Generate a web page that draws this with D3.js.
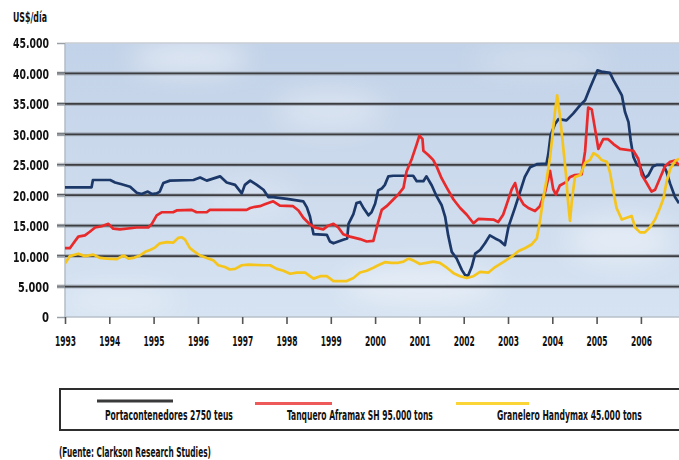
<!DOCTYPE html>
<html>
<head>
<meta charset="utf-8">
<script src="https://cdn.jsdelivr.net/npm/d3@7/dist/d3.min.js"></script>
<style>
  html, body { margin: 0; padding: 0; background: #ffffff; }
  svg { display: block; }
  text { font-family: "Liberation Sans Narrow", "DejaVu Sans Condensed", "Roboto", sans-serif; fill: #111; }
</style>
</head>
<body>
<svg id="chart" width="679" height="460"></svg>
<script>
// ---------------- DATA ----------------
const yearTicks = [1993,1994,1995,1996,1997,1998,1999,2000,2001,2002,2003,2004,2005,2006];
const yTickValues = [0,5000,10000,15000,20000,25000,30000,35000,40000,45000];
const yTickLabels = ["0","5.000","10.000","15.000","20.000","25.000","30.000","35.000","40.000","45.000"];
const seriesNames = ["Portacontenedores 2750 teus","Tanquero Aframax SH 95.000 tons","Granelero Handymax 45.000 tons"];
const yUnit = "US$/día";
const sourceNote = "(Fuente: Clarkson Research Studies)";

// [decimal year, US$/day]
const portacontenedores = [
 [1993.00,21300],[1993.60,21300],[1993.63,22500],[1994.02,22500],[1994.13,22100],[1994.28,21800],
 [1994.47,21400],[1994.62,20400],[1994.73,20200],[1994.87,20600],[1994.96,20200],[1995.07,20300],
 [1995.14,20600],[1995.22,22000],[1995.37,22400],[1995.90,22500],[1996.05,22900],[1996.20,22400],
 [1996.50,23100],[1996.65,22100],[1996.84,21700],[1996.99,20300],[1997.06,21700],[1997.18,22400],
 [1997.33,21700],[1997.48,20900],[1997.59,19700],[1997.70,19700],[1998.01,19400],[1998.38,19000],
 [1998.46,18000],[1998.53,16500],[1998.61,13600],[1998.91,13500],[1998.98,12400],[1999.06,12100],
 [1999.28,12700],[1999.37,12900],[1999.40,15300],[1999.51,16900],[1999.58,18700],[1999.66,18900],
 [1999.73,18000],[1999.85,16700],[1999.92,17200],[2000.00,18600],[2000.07,20800],[2000.15,21100],
 [2000.22,21700],[2000.30,23100],[2000.41,23200],[2000.86,23200],[2000.94,22300],[2001.09,22300],
 [2001.16,23100],[2001.28,21600],[2001.39,19800],[2001.50,18400],[2001.58,16500],[2001.65,13400],
 [2001.73,10700],[2001.84,9600],[2001.96,7700],[2002.03,6900],[2002.10,6800],[2002.18,8200],
 [2002.26,10400],[2002.37,11000],[2002.48,12100],[2002.59,13400],[2002.71,12900],[2002.82,12500],
 [2002.93,11800],[2003.01,14800],[2003.16,18000],[2003.27,20500],[2003.38,23000],[2003.50,24600],
 [2003.65,25100],[2003.87,25200],[2003.91,26800],[2003.96,29800],[2004.06,31700],[2004.14,32500],
 [2004.32,32300],[2004.47,33400],[2004.63,34800],[2004.74,35600],[2004.85,37600],[2004.96,39500],
 [2005.02,40500],[2005.11,40300],[2005.30,40100],[2005.38,38900],[2005.45,38000],[2005.57,36400],
 [2005.64,33700],[2005.72,32000],[2005.77,29000],[2005.83,26300],[2005.91,25000],[2005.98,24700],
 [2006.09,22800],[2006.17,23300],[2006.27,24700],[2006.36,25000],[2006.51,25000],[2006.58,23800],
 [2006.66,21900],[2006.77,19700],[2006.86,18700]
];
const tanquero = [
 [1993.00,11300],[1993.11,11300],[1993.19,12100],[1993.30,13200],[1993.45,13400],[1993.56,14000],
 [1993.68,14700],[1993.83,14900],[1993.98,15300],[1994.09,14500],[1994.24,14400],[1994.62,14700],
 [1994.88,14700],[1994.96,15300],[1995.07,16700],[1995.18,17200],[1995.44,17200],[1995.52,17500],
 [1995.86,17600],[1995.97,17200],[1996.20,17200],[1996.27,17600],[1997.10,17600],[1997.18,17900],
 [1997.29,18100],[1997.40,18200],[1997.51,18500],[1997.70,19000],[1997.85,18300],[1998.15,18200],
 [1998.27,17500],[1998.38,16300],[1998.53,15200],[1998.64,14700],[1998.83,14400],[1998.94,15000],
 [1999.06,15300],[1999.17,14700],[1999.28,13600],[1999.43,13200],[1999.66,12800],[1999.81,12400],
 [1999.96,12500],[2000.07,15600],[2000.15,17600],[2000.26,18200],[2000.41,19300],[2000.52,20100],
 [2000.64,21200],[2000.71,23900],[2000.83,26000],[2000.94,28400],[2001.00,29800],[2001.07,29200],
 [2001.09,27300],[2001.20,26600],[2001.31,25800],[2001.39,24700],[2001.50,22800],[2001.62,21200],
 [2001.77,19300],[2001.92,17900],[2002.07,16800],[2002.22,15400],[2002.33,16100],[2002.67,16000],
 [2002.78,15600],[2002.89,16800],[2002.97,18500],[2003.08,20900],[2003.16,22000],[2003.23,20000],
 [2003.35,18500],[2003.46,17900],[2003.61,17400],[2003.72,18200],[2003.84,20600],[2003.91,22800],
 [2003.95,24000],[2004.02,21000],[2004.08,20100],[2004.17,21600],[2004.32,22200],[2004.40,23000],
 [2004.51,23300],[2004.66,23400],[2004.74,27200],[2004.81,34400],[2004.89,34100],[2004.96,31100],
 [2005.04,27600],[2005.15,29200],[2005.26,29200],[2005.38,28400],[2005.53,27600],[2005.83,27300],
 [2005.94,26000],[2006.02,23300],[2006.13,22000],[2006.24,20600],[2006.32,20900],[2006.43,22800],
 [2006.54,24700],[2006.66,25500],[2006.77,25700],[2006.86,24900]
];
const granelero = [
 [1993.00,8800],[1993.11,10000],[1993.30,10400],[1993.45,10000],[1993.64,10250],[1993.79,9700],
 [1993.94,9600],[1994.17,9500],[1994.32,10100],[1994.43,9600],[1994.54,9700],[1994.69,10100],
 [1994.81,10700],[1994.92,11000],[1995.03,11400],[1995.14,12100],[1995.30,12300],[1995.44,12200],
 [1995.56,13000],[1995.63,13100],[1995.71,12700],[1995.82,11300],[1995.93,10700],[1996.05,10100],
 [1996.20,9700],[1996.35,9300],[1996.46,8500],[1996.61,8200],[1996.72,7800],[1996.84,7900],
 [1996.99,8500],[1997.14,8600],[1997.48,8500],[1997.63,8500],[1997.78,7900],[1997.93,7600],
 [1998.08,7100],[1998.23,7300],[1998.42,7300],[1998.61,6300],[1998.76,6700],[1998.91,6700],
 [1999.06,5900],[1999.36,5900],[1999.51,6400],[1999.66,7300],[1999.81,7600],[1999.96,8100],
 [2000.07,8500],[2000.22,9000],[2000.37,8900],[2000.52,8900],[2000.64,9100],[2000.75,9600],
 [2000.86,9300],[2001.01,8700],[2001.16,8900],[2001.31,9100],[2001.46,8900],[2001.62,8100],
 [2001.77,7200],[2001.92,6700],[2002.07,6400],[2002.22,6700],[2002.37,7400],[2002.56,7300],
 [2002.71,8200],[2002.89,9000],[2003.08,9900],[2003.23,10800],[2003.38,11300],[2003.53,11900],
 [2003.65,12900],[2003.72,15700],[2003.80,19700],[2003.87,22500],[2003.95,26300],[2004.02,31000],
 [2004.06,33700],[2004.11,36400],[2004.17,33200],[2004.25,27600],[2004.31,23300],[2004.36,18500],
 [2004.40,15800],[2004.44,19000],[2004.51,23000],[2004.63,23300],[2004.74,25300],[2004.85,25800],
 [2004.93,26900],[2005.04,26400],[2005.11,25800],[2005.23,25500],[2005.30,23800],[2005.38,20600],
 [2005.45,17900],[2005.57,16000],[2005.68,16300],[2005.79,16600],[2005.87,14700],[2005.98,13900],
 [2006.09,13900],[2006.20,14700],[2006.32,16000],[2006.43,17900],[2006.51,19500],[2006.58,22200],
 [2006.66,24300],[2006.77,25600],[2006.86,26000]
];
const seriesData = [portacontenedores, tanquero, granelero];
const seriesColors = ["#1c3868", "#e82a2c", "#f5c51e"];
const legendColors = ["#3a3a3a", "#ee5a5a", "#fbd535"];

// ---------------- HELPERS ----------------
// squeeze a text horizontally to a target width (condensed look of the original)
function fitWidth(textSel, target, anchorX, anchorY) {
  textSel.each(function(d, i) {
    const t = d3.select(this);
    const w = this.getComputedTextLength();
    const tw = typeof target === "function" ? target(d, i) : target;
    const sx = w > 0 ? tw / w : 1;
    const ax = typeof anchorX === "function" ? anchorX(d, i) : anchorX;
    const ay = typeof anchorY === "function" ? anchorY(d, i) : anchorY;
    t.attr("x", 0).attr("y", 0).attr("transform", `translate(${ax},${ay}) scale(${sx},1)`);
  });
}

// ---------------- LAYOUT ----------------
const svg = d3.select("#chart");
const plotL = 65, plotR = 679, plotT = 43, plotB = 317;
const x = d3.scaleLinear().domain([1993, 2007]).range([plotL, plotL + 14 * 44.3]);
const y = d3.scaleLinear().domain([0, 45000]).range([plotB, plotT]);

const defs = svg.append("defs");
const sky = defs.append("linearGradient").attr("id", "sky").attr("x1", 0).attr("y1", 0).attr("x2", 0).attr("y2", 1);
sky.append("stop").attr("offset", "0%").attr("stop-color", "#c2d2e8");
sky.append("stop").attr("offset", "55%").attr("stop-color", "#cddbed");
sky.append("stop").attr("offset", "100%").attr("stop-color", "#d6e3f2");
defs.append("filter").attr("id", "blur").attr("x", "-50%").attr("y", "-50%").attr("width", "200%").attr("height", "200%")
  .append("feGaussianBlur").attr("stdDeviation", 14);
defs.append("clipPath").attr("id", "clip").append("rect")
  .attr("x", plotL).attr("y", plotT - 5).attr("width", plotR - plotL).attr("height", plotB - plotT + 5);
defs.append("filter").attr("id", "soft").append("feGaussianBlur").attr("stdDeviation", 0.45);

// Plot background (sky)
svg.append("rect").attr("x", plotL).attr("y", plotT).attr("width", plotR - plotL).attr("height", plotB - plotT)
  .attr("fill", "url(#sky)");
const clouds = svg.append("g").attr("clip-path", "url(#clip)").attr("filter", "url(#blur)");
[[190,58,60,14,0.55],[330,110,55,20,0.35],[420,285,80,18,0.45],[620,240,55,25,0.4],[120,300,60,14,0.35],[540,60,70,12,0.3],[250,200,45,18,0.25]]
  .forEach(c => clouds.append("ellipse").attr("cx", c[0]).attr("cy", c[1]).attr("rx", c[2]).attr("ry", c[3])
    .attr("fill", "#ffffff").attr("opacity", c[4]));

// Plot borders
svg.append("line").attr("x1", plotL).attr("x2", plotR).attr("y1", plotT).attr("y2", plotT)
  .attr("stroke", "#c9ced5").attr("stroke-width", 1.5);
svg.append("line").attr("x1", plotL).attr("x2", plotL).attr("y1", plotT).attr("y2", plotB)
  .attr("stroke", "#b4bcc6").attr("stroke-width", 1.5);

// Gridlines
const grid = svg.append("g");
const gridVals = yTickValues.filter(v => v > 0 && v < 45000);
grid.selectAll("line.halo").data(gridVals).join("line").attr("class", "halo")
  .attr("x1", 57).attr("x2", plotR).attr("y1", d => y(d)).attr("y2", d => y(d))
  .attr("stroke", "#8d939b").attr("stroke-width", 4).attr("opacity", 0.55);
grid.selectAll("line.core").data(gridVals).join("line").attr("class", "core")
  .attr("x1", 57).attr("x2", plotR).attr("y1", d => y(d)).attr("y2", d => y(d))
  .attr("stroke", "#3b3d40").attr("stroke-width", 1.8);

// Y axis (labels + small ticks)
const yAxis = d3.axisLeft(y).tickValues(yTickValues).tickSize(8).tickPadding(8)
  .tickFormat((d, i) => yTickLabels[i]);
const yg = svg.append("g").attr("transform", `translate(${plotL},0)`).call(yAxis);
yg.select(".domain").remove();
yg.selectAll(".tick line").attr("stroke", "#9aa0a8").attr("stroke-width", 1.5);
const yTexts = yg.selectAll(".tick text").attr("font-size", 14).attr("fill", "#111").attr("font-weight", "bold")
  .attr("dy", "0.35em");
fitWidth(yTexts, (d, i) => yTickLabels[i].length === 1 ? 7 : (yTickLabels[i].length === 5 ? 31 : 36), -16, 0);

// X axis
const xAxis = d3.axisBottom(x).tickValues(yearTicks).tickSize(7).tickPadding(10).tickFormat(d3.format("d"));
const xg = svg.append("g").attr("transform", `translate(0,${plotB})`).call(xAxis);
xg.select(".domain").attr("stroke", "#b7c0ca").attr("stroke-width", 1.5).attr("d", `M${plotL},0H${plotR}`);
xg.selectAll(".tick line").attr("stroke", "#555").attr("stroke-width", 1.6);
const xTexts = xg.selectAll(".tick text").attr("font-size", 14).attr("fill", "#111").attr("font-weight", "bold")
  .attr("dy", "0.71em");
fitWidth(xTexts, 21, 0, 19);

// Series lines
const line = d3.line().x(d => x(d[0])).y(d => y(d[1]));
const lg = svg.append("g").attr("clip-path", "url(#clip)").attr("filter", "url(#soft)");
lg.selectAll("path").data(seriesData).join("path")
  .attr("d", line).attr("fill", "none")
  .attr("stroke", (d, i) => seriesColors[i]).attr("stroke-width", 2.7)
  .attr("stroke-linejoin", "round");

// Unit label
const unitT = svg.append("text").attr("font-size", 14).attr("font-weight", "bold").text(yUnit);
fitWidth(unitT, 34, 13, 22);

// Legend
svg.append("rect").attr("x", 60).attr("y", 389).attr("width", 640).attr("height", 41)
  .attr("fill", "#ffffff").attr("stroke", "#2e2e2e").attr("stroke-width", 2);
const legendItems = [
  {lx1: 97, lx2: 173, ly: 401, tx: 105, tw: 128},
  {lx1: 255, lx2: 332, ly: 403.5, tx: 287, tw: 146},
  {lx1: 456, lx2: 529, ly: 403.5, tx: 497, tw: 145}
];
const leg = svg.append("g");
legendItems.forEach((it, i) => {
  leg.append("line").attr("x1", it.lx1).attr("x2", it.lx2).attr("y1", it.ly).attr("y2", it.ly)
    .attr("stroke", legendColors[i]).attr("stroke-width", 3);
  const t = leg.append("text").attr("font-size", 14).attr("font-weight", "bold").text(seriesNames[i]);
  fitWidth(t, it.tw, it.tx, 420);
});

// Source note
const srcT = svg.append("text").attr("font-size", 14).attr("font-weight", "bold").text(sourceNote);
fitWidth(srcT, 152, 59, 457);
</script>
</body>
</html>
